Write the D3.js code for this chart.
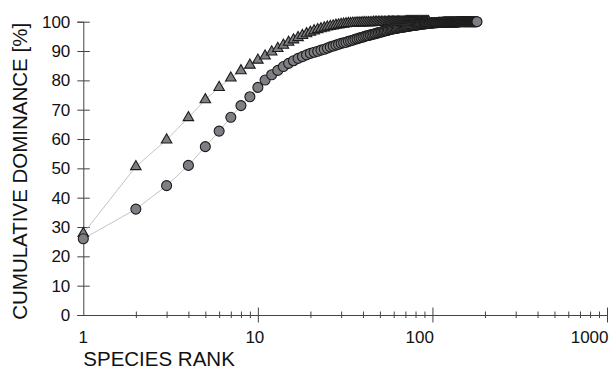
<!DOCTYPE html>
<html>
<head>
<meta charset="utf-8">
<script src="https://cdn.jsdelivr.net/npm/d3@7"></script>
<style>
  html, body { margin: 0; padding: 0; background: #fff; }
  svg { display: block; font-family: "Liberation Sans", Arial, sans-serif; }
</style>
</head>
<body>
<svg id="chart" width="613" height="369"></svg>
<script>
// Cumulative dominance by species rank, two assemblages
const triangleValues = [
  27.8, 50.6, 59.7, 67.3, 73.4, 77.6, 80.8, 83.3, 85.2, 86.9,
  88.3, 89.7, 90.9, 92.0, 93.0, 93.8, 94.6, 95.3, 95.9, 96.4,
  96.9, 97.3, 97.6, 97.9, 98.2, 98.4, 98.6, 98.8, 98.9, 99.1,
  99.2, 99.3, 99.4, 99.4, 99.5, 99.5, 99.6, 99.6, 99.6, 99.7,
  99.7, 99.7, 99.7, 99.7, 99.7, 99.8, 99.8, 99.8, 99.8, 99.8,
  99.8, 99.8, 99.8, 99.8, 99.8, 99.9, 99.9, 99.9, 99.9, 99.9,
  99.9, 99.9, 99.9, 99.9, 99.9, 99.9, 99.9, 99.9, 99.9, 99.9,
  100, 100, 100, 100, 100, 100, 100, 100, 100, 100,
  100, 100, 100, 100, 100, 100, 100, 100, 100, 100,
  100, 100, 100, 100, 100
];

const circleValues = [
  26.0, 36.1, 44.1, 51.0, 57.4, 62.7, 67.4, 71.4, 74.4, 77.6,
  80.1, 81.9, 83.4, 84.7, 85.8, 86.7, 87.5, 88.1, 88.7, 89.2,
  89.6, 89.9, 90.3, 90.6, 91.0, 91.4, 91.7, 92.0, 92.3, 92.6,
  92.8, 93.0, 93.3, 93.5, 93.7, 94.0, 94.2, 94.4, 94.6, 94.8,
  95.0, 95.2, 95.3, 95.5, 95.6, 95.8, 95.9, 96.1, 96.2, 96.4,
  96.5, 96.7, 96.8, 96.9, 97.0, 97.2, 97.3, 97.4, 97.5, 97.6,
  97.7, 97.7, 97.8, 97.9, 98.0, 98.0, 98.1, 98.2, 98.2, 98.3,
  98.4, 98.4, 98.5, 98.5, 98.6, 98.6, 98.7, 98.7, 98.8, 98.8,
  98.9, 98.9, 99.0, 99.0, 99.1, 99.1, 99.2, 99.2, 99.2, 99.3,
  99.3, 99.3, 99.4, 99.4, 99.4, 99.5, 99.5, 99.5, 99.5, 99.6,
  99.6, 99.6, 99.7, 99.7, 99.7, 99.7, 99.7, 99.8, 99.8, 99.8,
  99.8, 99.8, 99.8, 99.8, 99.8, 99.9, 99.9, 99.9, 99.9, 99.9,
  99.9, 99.9, 99.9, 99.9, 99.9, 99.9, 99.9, 99.9, 99.9, 99.9,
  99.9, 99.9, 99.9, 99.9, 99.9, 99.9, 99.9, 99.9, 99.9, 99.9,
  100, 100, 100, 100, 100, 100, 100, 100, 100, 100,
  100, 100, 100, 100, 100, 100, 100, 100, 100, 100,
  100, 100, 100, 100, 100, 100, 100, 100, 100, 100,
  100, 100, 100, 100, 100, 100, 100, 100, 100, 100
];

const xTickLabels = [1, 10, 100, 1000];
const yTickValues = [0, 10, 20, 30, 40, 50, 60, 70, 80, 90, 100];
const xTitle = "SPECIES RANK";
const yTitle = "CUMULATIVE DOMINANCE [%]";

const svg = d3.select("#chart");
const axisColor = "#444";
const markerFill = "#7e7e84";
const markerStroke = "#1c1c1c";

const x = d3.scaleLog().domain([1, 1000]).range([83.3, 607]);
const y = d3.scaleLinear().domain([0, 100]).range([315, 21.7]);

const toPoints = vals => vals.map((v, i) => ({ rank: i + 1, value: v }));
const triData = toPoints(triangleValues);
const cirData = toPoints(circleValues);

// Y axis: ticks cross the axis line
const yAxis = svg.append("g")
  .attr("transform", `translate(${x(1)},0)`)
  .call(d3.axisLeft(y).tickValues(yTickValues).tickSizeOuter(0).tickSize(6).tickPadding(7));
yAxis.select(".domain").attr("stroke", axisColor);
yAxis.selectAll(".tick line").attr("stroke", axisColor).attr("x1", 6.5).attr("x2", -6);
yAxis.selectAll(".tick text")
  .attr("font-size", 17).attr("fill", "#111")
  .attr("font-family", "Liberation Sans, Arial, sans-serif");

// X axis: log scale with decade labels and minor ticks
const xTicks = x.ticks();
const isMajor = d => xTickLabels.includes(d);
const xAxis = svg.append("g")
  .attr("transform", `translate(0,${y(0)})`)
  .call(d3.axisBottom(x).tickValues(xTicks.filter(d => d > 1)).tickSizeOuter(0)
    .tickFormat(d => isMajor(d) ? d : ""));
xAxis.select(".domain").attr("stroke", axisColor);
xAxis.selectAll(".tick line")
  .attr("stroke", axisColor)
  .attr("y1", d => isMajor(d) ? -7.5 : -3.5)
  .attr("y2", d => isMajor(d) ? 7.5 : 3);
xAxis.selectAll(".tick text").remove();

// Decade labels: the wider ones end at their tick so they stay inside the frame
svg.append("g").selectAll("text")
  .data(xTickLabels)
  .join("text")
  .attr("x", d => d >= 100 ? x(d) + 1.5 : x(d) - (d >= 10 ? 3 : 0))
  .attr("y", 343)
  .attr("text-anchor", d => d >= 100 ? "end" : "middle")
  .attr("font-size", 17)
  .attr("fill", "#111")
  .text(d => d);

// Axis titles
svg.append("text")
  .attr("x", x(1))
  .attr("y", 366)
  .attr("font-size", 20.5)
  .attr("fill", "#111")
  .text(xTitle);

svg.append("text")
  .attr("transform", `translate(27,${(y(0) + y(100)) / 2 + 3}) rotate(-90)`)
  .attr("text-anchor", "middle")
  .attr("font-size", 20.5)
  .attr("fill", "#111")
  .text(yTitle);

// Connecting lines
const line = d3.line().x(d => x(d.rank)).y(d => y(d.value));
[triData, cirData].forEach(data => {
  svg.append("path")
    .datum(data)
    .attr("d", line)
    .attr("fill", "none")
    .attr("stroke", "#c4c4c4")
    .attr("stroke-width", 1);
});

// Triangle markers
const tri = d3.symbol().type(d3.symbolTriangle).size(48);
svg.append("g").selectAll("path")
  .data(triData)
  .join("path")
  .attr("d", tri)
  .attr("transform", d => `translate(${x(d.rank)},${y(d.value)})`)
  .attr("fill", markerFill)
  .attr("stroke", markerStroke)
  .attr("stroke-width", 1.1);

// Circle markers
svg.append("g").selectAll("circle")
  .data(cirData)
  .join("circle")
  .attr("cx", d => x(d.rank))
  .attr("cy", d => y(d.value))
  .attr("r", 5)
  .attr("fill", markerFill)
  .attr("stroke", markerStroke)
  .attr("stroke-width", 1.1);
</script>
</body>
</html>
